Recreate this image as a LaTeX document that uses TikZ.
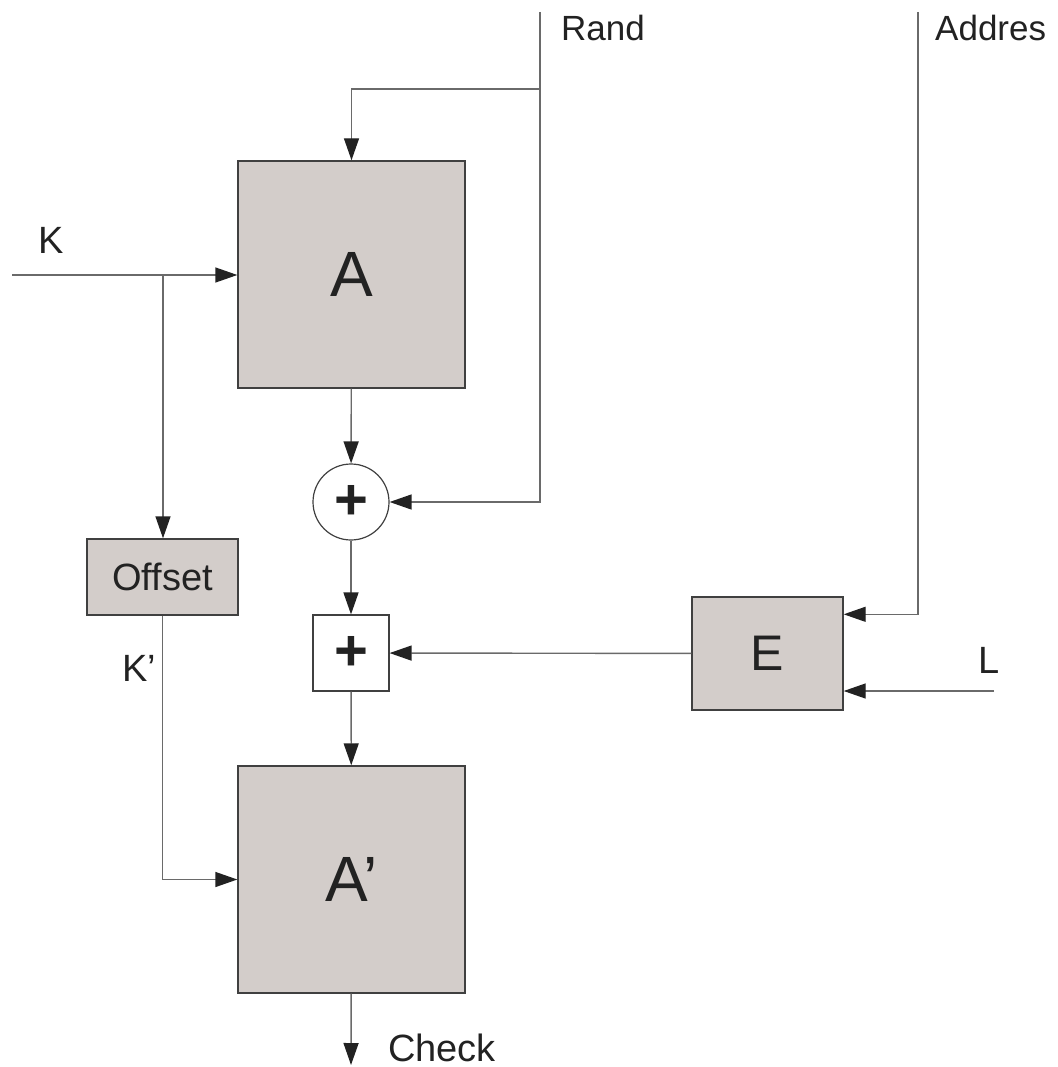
\documentclass[tikz,border=0pt]{standalone}
\usepackage{fontspec}
\setmainfont{Liberation Sans}
\usepackage{xcolor}
\usetikzlibrary{arrows.meta,positioning,calc}
\definecolor{boxfill}{HTML}{D3CDCA}
\definecolor{wire}{HTML}{6A6A6A}
\definecolor{edge}{HTML}{404040}
\definecolor{tip}{HTML}{222222}

\begin{document}
\begin{tikzpicture}[
  x=1pt,y=-1pt,
  every node/.style={font=\fontsize{38}{40}\selectfont,inner sep=0pt,text=tip},
  blk/.style={draw=edge,line width=1.4pt,fill=boxfill},
  big/.style={blk,minimum width=227pt,minimum height=227pt,font=\fontsize{64}{66}\selectfont},
  sum/.style={draw=edge,line width=1.2pt,fill=white,minimum size=76pt,font=\fontsize{58}{60}\selectfont\bfseries},
  lbl/.style={anchor=base west},
  arr/.style={-{Triangle[length=22pt,width=15pt,color=tip,fill=tip]},draw=wire,line width=1.4pt}
]
\useasboundingbox (0,0) rectangle (1057,1067);

% blocks
\node[big] (A) at (351.5,274.5) {A};
\node[sum,circle] (add1) at (351,502) {+};
\node[sum,rectangle] (add2) at (351,653) {+};
\node[big] (Ap) at (351.5,879.5) {A'};
\node[blk,minimum width=151pt,minimum height=76pt] (offset) at (162.5,577) {Offset};
\node[blk,minimum width=151pt,minimum height=113pt,font=\fontsize{50}{52}\selectfont] (E) at (767.5,653.5) {E};

% wire ends
\coordinate (randtop) at (540,12);
\coordinate (randbr) at (540,89);
\coordinate (addrtop) at (918,12);
\coordinate (kin) at (12,275);
\coordinate (kbr) at (163,275);
\coordinate (lin) at (994,691);
\coordinate (chk) at (351,1065);

% labels
\node[lbl,font=\fontsize{35}{37}\selectfont] (rand) at (561,41) {Rand};
\node[lbl,font=\fontsize{35}{37}\selectfont] (addr) at (935,41) {Addres};
\node[lbl] (k) at (38,253) {K};
\node[lbl] (kp) at (122,681) {K'};
\node[lbl] (l) at (978,673) {L};
\node[lbl] (check) at (388,1061) {Check};

% wires
\draw[arr] (randtop) |- (add1);
\draw[arr] (randbr) -| (A);
\draw[arr] (kin) -- (kin -| A.west);
\draw[arr] (kbr) -- (kbr |- offset.north);
\draw[arr] (A) -- (add1);
\draw[arr] (add1) -- (add2);
\draw[arr] (E) -- (add2);
\draw[arr] (add2) -- (Ap);
\draw[arr] (offset) |- (Ap);
\draw[arr] (addrtop) |- ([yshift=-18pt]E.north east);
\draw[arr] (lin) -- (lin -| E.east);
\draw[arr] (Ap) -- (chk);
\end{tikzpicture}
\end{document}
